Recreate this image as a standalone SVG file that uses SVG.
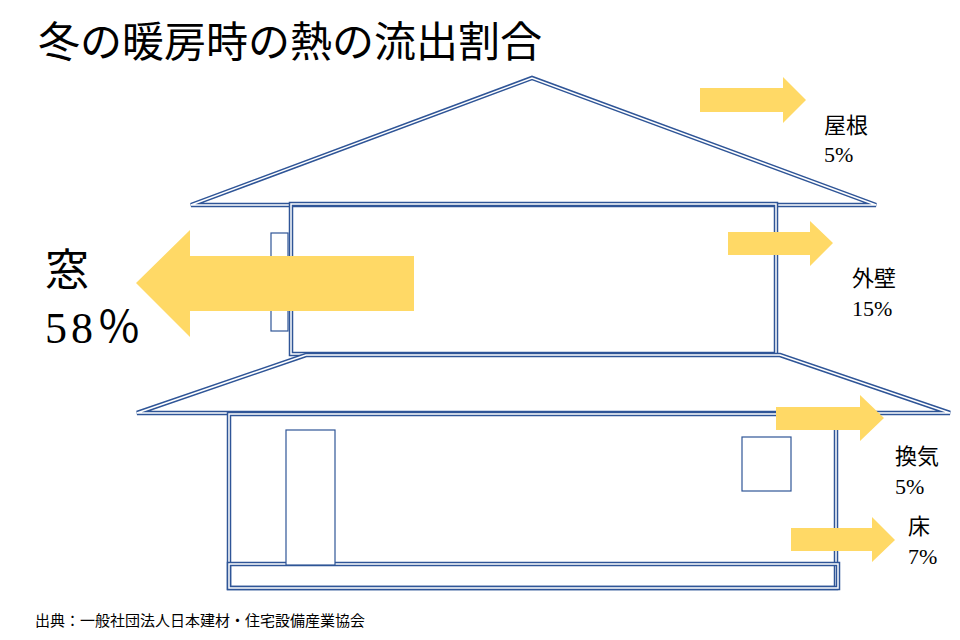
<svg xmlns="http://www.w3.org/2000/svg" width="960" height="640" viewBox="0 0 960 640">
<style>
.o{fill:none;stroke:#2F5597;stroke-width:4.5;stroke-linejoin:miter}
.i{fill:none;stroke:#fff;stroke-width:1.5}
.w{fill:#fff;stroke:#2F5597;stroke-width:1.2}
.a{fill:#FFD966}
text{font-family:"Liberation Serif","Noto Sans CJK JP",serif;fill:#000}
.l{font-size:22px}
</style>
<rect width="960" height="640" fill="#fff"/>
<text x="38" y="57" font-size="42">冬の暖房時の熱の流出割合</text>
<g id="house">
<g id="upper-roof"><path class="o" d="M191,205 L532,78 L876,205 Z"/><path class="i" d="M191,205 L532,78 L876,205 Z"/></g>
<g id="upper-floor"><rect class="o" x="291" y="204" width="485" height="150" fill="#fff"/><rect class="i" x="291" y="204" width="485" height="150"/></g>
<g id="lower-roof"><path class="o" d="M137,413 L306,355 L780,355 L950,413 Z"/><path class="i" d="M137,413 L306,355 L780,355 L950,413 Z"/></g>
<g id="lower-floor"><rect class="o" x="229" y="414" width="607" height="174" fill="#fff"/><rect class="i" x="229" y="414" width="607" height="174"/>
<rect class="o" x="229" y="564" width="609" height="24"/><rect class="i" x="229" y="564" width="609" height="24"/></g>
<rect class="w" x="271" y="233" width="17" height="98"/>
<rect class="w" x="286" y="430" width="49" height="135"/>
<rect class="w" x="742" y="437" width="49" height="54"/>
</g>
<g id="arrows">
<path class="a" d="M700,88 H783 V77 L806,100 L783,123 V112 H700 Z"/>
<path class="a" d="M728,232 H810 V221 L833,243 L810,266 V255 H728 Z"/>
<path class="a" d="M776,407 H860 V395 L884,418 L860,441 V430 H776 Z"/>
<path class="a" d="M791,528 H872 V517 L895,540 L872,562 V551 H791 Z"/>
<path class="a" d="M414,256 H190 V230 L136,283 L190,337 V311 H414 Z"/>
</g>
<text class="l" x="824" y="133">屋根</text>
<text class="l" x="824" y="162">5%</text>
<text class="l" x="852" y="286">外壁</text>
<text class="l" x="852" y="316">15%</text>
<text class="l" x="895" y="464">換気</text>
<text class="l" x="895" y="494">5%</text>
<text class="l" x="908" y="534">床</text>
<text class="l" x="908" y="564">7%</text>
<text x="45" y="286" font-size="44">窓</text>
<text x="45" y="343" font-size="44" letter-spacing="4">58％</text>
<text x="35" y="626" font-size="15">出典：一般社団法人日本建材・住宅設備産業協会</text>
</svg>
